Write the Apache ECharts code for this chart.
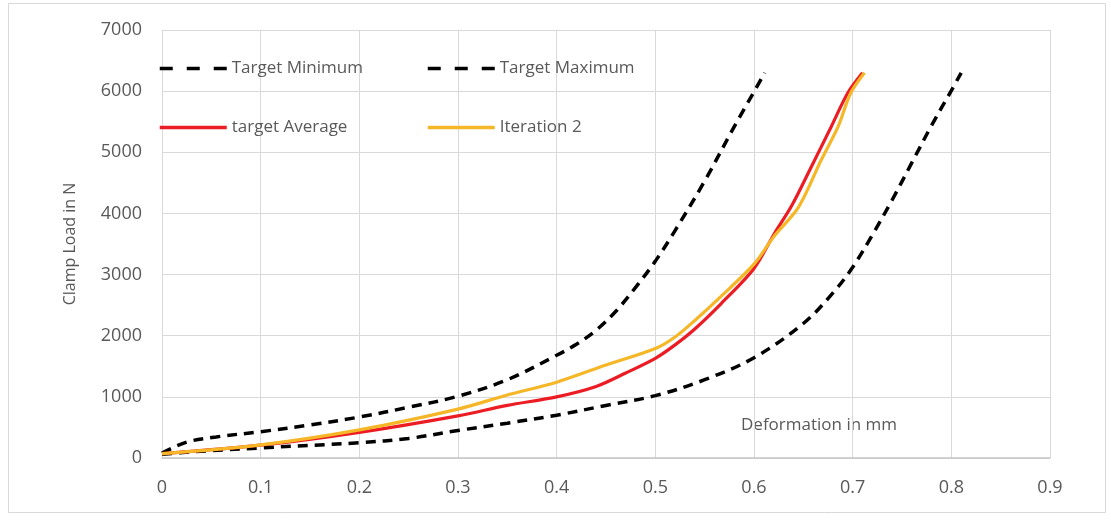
<!DOCTYPE html>
<html>
<head>
<meta charset="utf-8">
<title>Clamp Load vs Deformation</title>
<script src="https://cdn.jsdelivr.net/npm/echarts@6/dist/echarts.min.js"></script>
<style>
  html, body { margin: 0; padding: 0; background: #ffffff; }
  #chart { width: 1111px; height: 521px; }
</style>
</head>
<body>
<div id="chart"></div>
<script>
// Deformation (mm) / clamp load (N) pairs for each curve
const minDeform = [0, 0.025, 0.055, 0.1, 0.15, 0.2, 0.25, 0.3, 0.35, 0.4, 0.42, 0.44, 0.46, 0.48, 0.5, 0.52, 0.55, 0.58, 0.611];
const minLoad   = [80, 260, 345, 430, 540, 670, 830, 1010, 1280, 1680, 1860, 2090, 2400, 2790, 3220, 3720, 4530, 5420, 6300];

const maxDeform = [0, 0.03, 0.1, 0.2, 0.25, 0.3, 0.35, 0.4, 0.45, 0.5, 0.55, 0.6, 0.65, 0.68, 0.7, 0.72, 0.74, 0.76, 0.78, 0.8, 0.81];
const maxLoad   = [60, 100, 165, 250, 320, 450, 570, 700, 860, 1020, 1280, 1640, 2200, 2700, 3120, 3650, 4220, 4830, 5440, 6010, 6300];

const avgDeform = [0, 0.1, 0.2, 0.3, 0.35, 0.4, 0.44, 0.47, 0.5, 0.52, 0.54, 0.567, 0.6, 0.621, 0.638, 0.658, 0.678, 0.695, 0.71];
const avgLoad   = [70, 210, 420, 690, 860, 1000, 1170, 1390, 1630, 1850, 2110, 2530, 3100, 3680, 4120, 4760, 5410, 5970, 6300];

const it2Deform = [0, 0.1, 0.2, 0.3, 0.35, 0.4, 0.45, 0.5, 0.52, 0.54, 0.565, 0.6, 0.62, 0.645, 0.668, 0.685, 0.698, 0.712];
const it2Load   = [70, 215, 460, 800, 1030, 1240, 1520, 1790, 1980, 2250, 2620, 3170, 3620, 4100, 4870, 5410, 5970, 6300];

const seriesNames = ['Target Minimum', 'Target Maximum', 'target Average', 'Iteration 2'];
const xAxisTitle = 'Deformation in mm';
const yAxisTitle = 'Clamp Load in N';

const pairs = (xs, ys) => xs.map((x, i) => [x, ys[i]]);

const FONT = '"Open Sans", "Liberation Sans", sans-serif';
const TEXT_GRAY = '#595959';
const GRID_GRAY = '#d9d9d9';

const chart = echarts.init(document.getElementById('chart'), null, { renderer: 'canvas' });

// One legend box per entry so the two columns line up like a 2x2 table
function legendAt(name, left, top, dashed) {
  const l = {
    data: [name],
    left: left,
    top: top,
    padding: 0,
    itemWidth: 67,
    itemHeight: 14,
    itemGap: 5,
    itemStyle: { opacity: 0 },          // hide the marker dot, keep the line
    textStyle: { color: TEXT_GRAY, fontSize: 17, fontFamily: FONT },
    selectedMode: false
  };
  if (dashed) {
    l.lineStyle = { type: [13, 14], width: 3.5, cap: 'butt' };
  } else {
    l.lineStyle = { width: 3.5 };
  }
  return l;
}

const dashedLine = {
  color: '#000000',
  width: 3.5,
  type: [10, 7],
  cap: 'butt'
};

chart.setOption({
  backgroundColor: '#ffffff',
  animation: false,
  grid: { left: 162, right: 61, top: 30, bottom: 63, containLabel: false },
  legend: [
    legendAt(seriesNames[0], 158, 60, true),
    legendAt(seriesNames[1], 426, 60, true),
    legendAt(seriesNames[2], 158, 119, false),
    legendAt(seriesNames[3], 426, 119, false)
  ],
  xAxis: {
    type: 'value',
    min: 0,
    max: 0.9,
    interval: 0.1,
    axisLine: { show: true, lineStyle: { color: '#c6c6c6', width: 1.5 } },
    axisTick: { show: false },
    axisLabel: {
      color: TEXT_GRAY, fontSize: 18, fontFamily: FONT, margin: 21,
      formatter: v => (v === 0 ? '0' : String(Math.round(v * 10) / 10))
    },
    splitLine: { show: true, lineStyle: { color: GRID_GRAY, width: 1 } }
  },
  yAxis: {
    type: 'value',
    min: 0,
    max: 7000,
    interval: 1000,
    name: yAxisTitle,
    nameLocation: 'middle',
    nameGap: 84,
    nameTextStyle: { color: TEXT_GRAY, fontSize: 16, fontFamily: FONT },
    axisLine: { show: false },
    axisTick: { show: false },
    axisLabel: {
      color: TEXT_GRAY, fontSize: 18, fontFamily: FONT, margin: 20,
      formatter: v => String(v)
    },
    splitLine: { show: true, lineStyle: { color: GRID_GRAY, width: 1 } }
  },
  graphic: [
    {
      type: 'rect',
      shape: { x: 8.5, y: 3.5, width: 1097, height: 509 },
      style: { fill: 'none', stroke: '#d9d9d9', lineWidth: 1 },
      silent: true,
      z: -10
    },
    {
      type: 'text',
      left: 741,
      top: 417,
      style: { text: xAxisTitle, fill: TEXT_GRAY, fontSize: 17, fontFamily: FONT },
      silent: true
    }
  ],
  series: [
    {
      name: seriesNames[0], type: 'line', data: pairs(minDeform, minLoad),
      symbol: 'none', smooth: 0.35,
      lineStyle: dashedLine, itemStyle: { color: '#000000' }, z: 2
    },
    {
      name: seriesNames[1], type: 'line', data: pairs(maxDeform, maxLoad),
      symbol: 'none', smooth: 0.35,
      lineStyle: dashedLine, itemStyle: { color: '#000000' }, z: 3
    },
    {
      name: seriesNames[2], type: 'line', data: pairs(avgDeform, avgLoad),
      symbol: 'none', smooth: 0.3,
      lineStyle: { color: '#EC1C24', width: 3.2 }, itemStyle: { color: '#EC1C24' }, z: 4
    },
    {
      name: seriesNames[3], type: 'line', data: pairs(it2Deform, it2Load),
      symbol: 'none', smooth: 0.3,
      lineStyle: { color: '#F5B728', width: 3.2 }, itemStyle: { color: '#F5B728' }, z: 5
    }
  ]
});
</script>
</body>
</html>
